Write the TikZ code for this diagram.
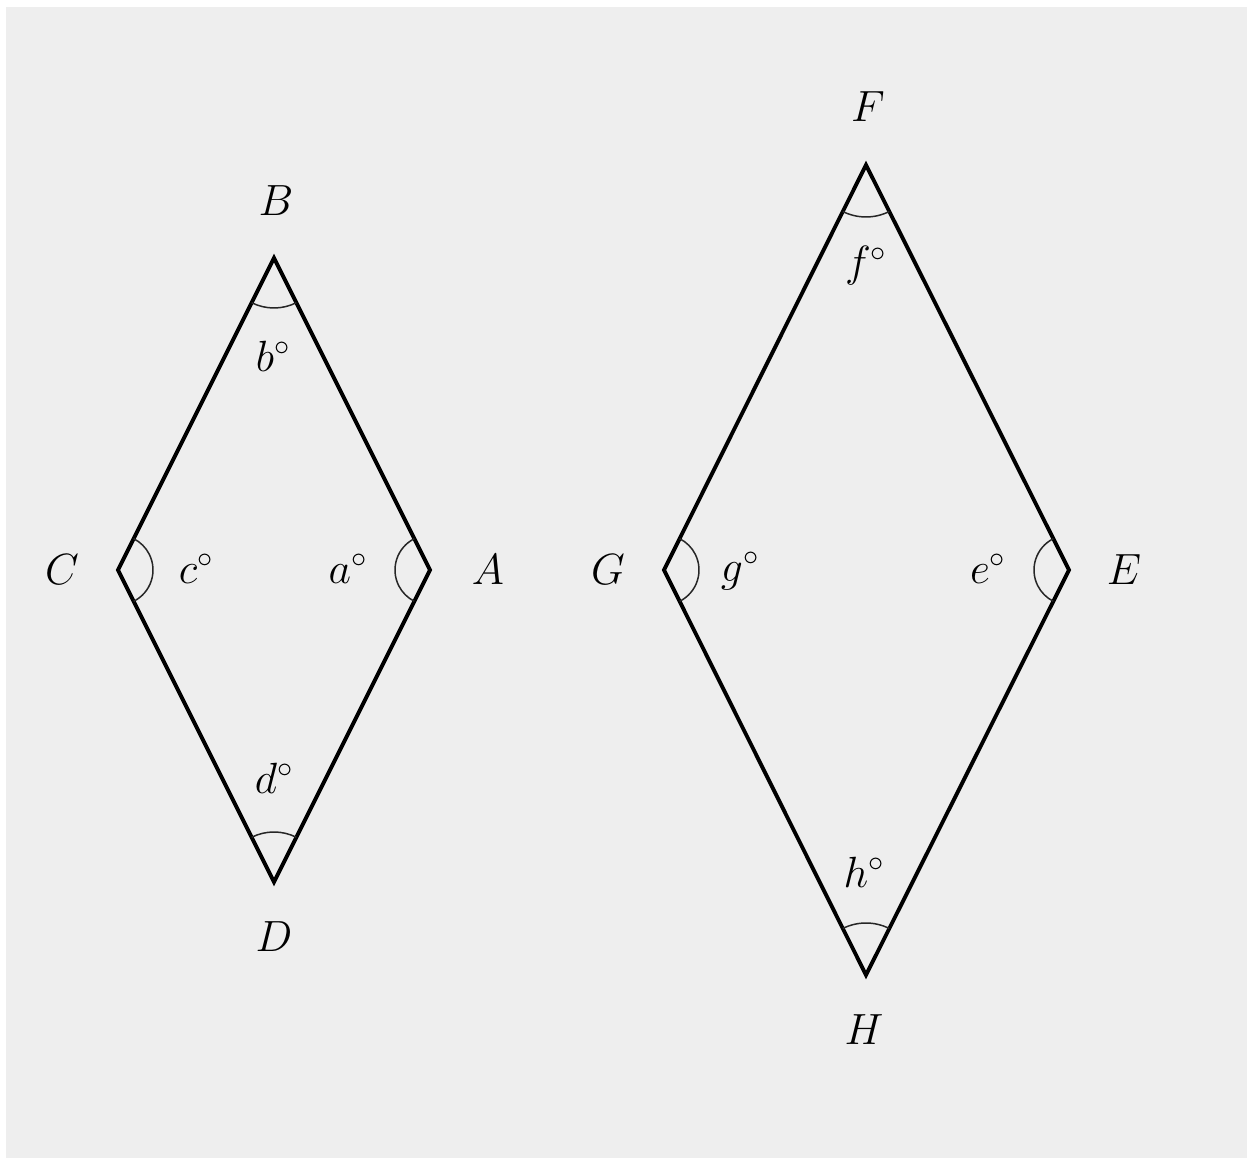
\documentclass[tikz,border=0pt]{standalone}
\begin{document}
\begin{tikzpicture}[x=0.02cm,y=0.02cm,
  side/.style={line width=2.2pt,line join=miter,black},
  anglearc/.style={line width=0.85pt,black!85},
  lbl/.style={inner sep=0pt,font=\fontsize{25}{30}\selectfont}]
\useasboundingbox (0,0) rectangle (1247,1159);
\fill[white] (0,0) rectangle (1247,1159);
\fill[fill={rgb,255:red,238;green,238;blue,238}] (6,1) rectangle (1247,1152);
% left rhombus
\coordinate (B) at (274,901);
\coordinate (C) at (118,589);
\coordinate (A) at (430,589);
\coordinate (D) at (274,277);
\draw[side] (A) -- (B) -- (C) -- (D) -- cycle;
\draw[anglearc] ([shift={(243.43:50)}]B) arc[start angle=243.43,end angle=296.57,radius=50];
\draw[anglearc] ([shift={(63.43:50)}]D) arc[start angle=63.43,end angle=116.57,radius=50];
\draw[anglearc] ([shift={(-63.43:35)}]C) arc[start angle=-63.43,end angle=63.43,radius=35];
\draw[anglearc] ([shift={(116.57:35)}]A) arc[start angle=116.57,end angle=243.43,radius=35];
\node[lbl] (lB) at (276,958) {$B$};
\node[lbl] (lC) at (62,589) {$C$};
\node[lbl] (lA) at (488,589) {$A$};
\node[lbl] (lD) at (274,222) {$D$};
\node[lbl] (lb) at (273,803) {$b^\circ$};
\node[lbl] (lc) at (196,590) {$c^\circ$};
\node[lbl] (la) at (348,590) {$a^\circ$};
\node[lbl] (ld) at (274,381) {$d^\circ$};
% right rhombus
\coordinate (F) at (866,994);
\coordinate (G) at (664,589);
\coordinate (E) at (1069,589);
\coordinate (H) at (866,184);
\draw[side] (E) -- (F) -- (G) -- (H) -- cycle;
\draw[anglearc] ([shift={(243.43:52)}]F) arc[start angle=243.43,end angle=296.57,radius=52];
\draw[anglearc] ([shift={(63.43:52)}]H) arc[start angle=63.43,end angle=116.57,radius=52];
\draw[anglearc] ([shift={(-63.43:35)}]G) arc[start angle=-63.43,end angle=63.43,radius=35];
\draw[anglearc] ([shift={(116.57:35)}]E) arc[start angle=116.57,end angle=243.43,radius=35];
\node[lbl] (lF) at (868,1052) {$F$};
\node[lbl] (lG) at (608,589) {$G$};
\node[lbl] (lE) at (1124,589) {$E$};
\node[lbl] (lH) at (864,129) {$H$};
\node[lbl] (lf) at (866,893) {$f^\circ$};
\node[lbl] (lg) at (740,588) {$g^\circ$};
\node[lbl] (le) at (988,590) {$e^\circ$};
\node[lbl] (lh) at (864,287) {$h^\circ$};
\end{tikzpicture}
\end{document}
